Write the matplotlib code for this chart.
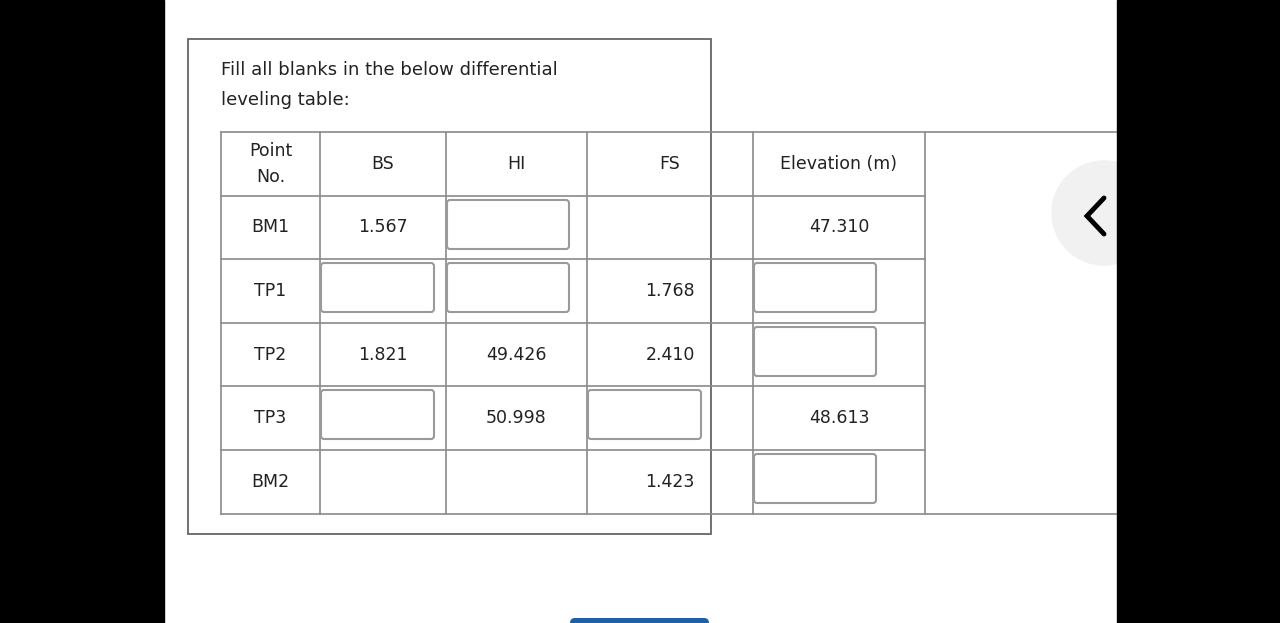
import matplotlib.pyplot as plt
from matplotlib.patches import Rectangle, FancyBboxPatch, Circle

# table contents ("" = empty, None = input box)
header = ["Point\nNo.", "BS", "HI", "FS", "Elevation (m)"]
points = ["BM1", "TP1", "TP2", "TP3", "BM2"]
bs = ["1.567", None, "1.821", None, ""]
hi = [None, None, "49.426", "50.998", ""]
fs = ["", "1.768", "2.410", None, "1.423"]
elev = ["47.310", None, None, "48.613", None]

plt.rcParams["font.family"] = ["DejaVu Sans"]
fig = plt.figure(figsize=(12.8, 6.23), dpi=100)
ax = fig.add_axes([0, 0, 1, 1])
ax.set_xlim(0, 1280)
ax.set_ylim(623, 0)
ax.axis("off")

col_x = [221, 320, 446, 587, 753, 925]
row_y = [132, 196, 259, 323, 386, 450, 514]
lc = "#8a8a8a"
tc = "#222222"

# side button circle with chevron
ax.add_patch(Circle((1104, 213), 52, color="#f1f1f1", zorder=1))
ax.plot([1104, 1087, 1104], [198, 216, 234], color="black", lw=3.5,
        solid_capstyle="round", solid_joinstyle="miter", zorder=2)

# outer box
ax.add_patch(Rectangle((188, 39), 523, 495, fill=False, ec="#666666", lw=1.3, zorder=3))
ax.text(221, 70, "Fill all blanks in the below differential", fontsize=13, va="center", color=tc)
ax.text(221, 100, "leveling table:", fontsize=13, va="center", color=tc)

# grid lines
for i, y in enumerate(row_y):
    x1 = 1116 if i in (0, len(row_y) - 1) else col_x[-1]
    ax.plot([col_x[0], x1], [y, y], color=lc, lw=1.2, zorder=3)
for x in col_x:
    ax.plot([x, x], [row_y[0], row_y[-1]], color=lc, lw=1.2, zorder=3)

def cell(ci, ri, val):
    x0, x1 = col_x[ci], col_x[ci + 1]
    y0, y1 = row_y[ri], row_y[ri + 1]
    if val is None:
        w = 113 if ci in (1, 3) else 122
        ax.add_patch(FancyBboxPatch((x0 + 1, y0 + 4), w, 49,
                                    boxstyle="round,pad=0,rounding_size=3",
                                    fc="white", ec="#9a9a9a", lw=1.5, zorder=4))
    elif val:
        xc = (x0 + x1) / 2
        ax.text(xc, (y0 + y1) / 2, val, fontsize=12.5, ha="center", va="center",
                color=tc, linespacing=1.6, zorder=5)

for ci, h in enumerate(header):
    cell(ci, 0, h)
for ri in range(5):
    for ci, col in enumerate([points, bs, hi, fs, elev]):
        cell(ci, ri + 1, col[ri])

# bottom blue button edge
ax.add_patch(FancyBboxPatch((570, 618), 139, 20, boxstyle="round,pad=0,rounding_size=5",
                            fc="#1f5fa8", ec="none", zorder=2))

# black side bars
ax.add_patch(Rectangle((0, 0), 164, 623, color="black", zorder=6))
ax.add_patch(Rectangle((1117, 0), 163, 623, color="black", zorder=6))

fig.savefig("out.png", dpi=100)
